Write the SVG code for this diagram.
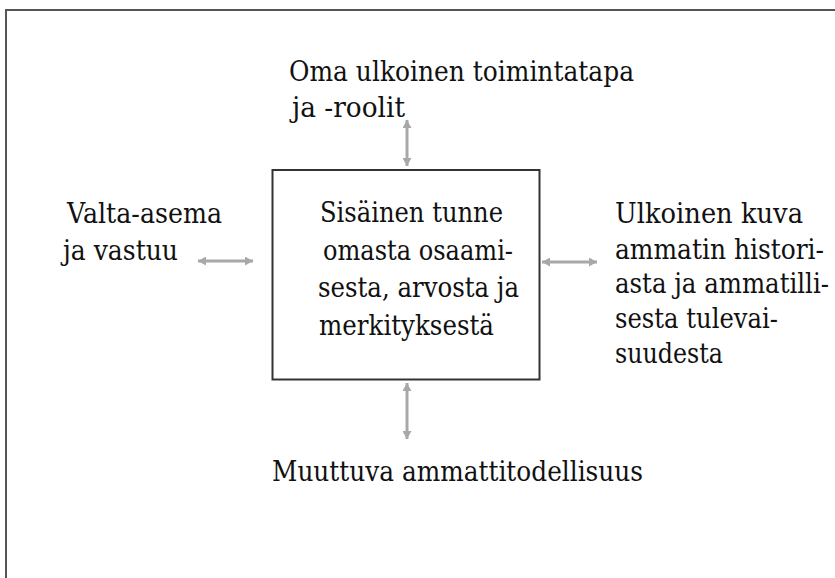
<svg xmlns="http://www.w3.org/2000/svg" width="835" height="578" viewBox="0 0 835 578">
  <style>
    .t { font-family: "DejaVu Serif", serif; font-size: 27.5px; fill: #111; }
    .conn { stroke: #a8a8a8; stroke-width: 3; fill: none; marker-start: url(#ah); marker-end: url(#ah); }
  </style>
  <defs>
    <marker id="ah" viewBox="0 0 8 9" markerWidth="8" markerHeight="9" refX="8" refY="4.5" markerUnits="userSpaceOnUse" orient="auto-start-reverse">
      <path d="M0,0 L8,4.5 L0,9 z" fill="#a8a8a8"/>
    </marker>
  </defs>
  <rect width="835" height="578" fill="#fff"/>
  <rect id="frame" x="6" y="10" width="900" height="700" fill="none" stroke="#555" stroke-width="2"/>

  <g id="center">
    <rect x="272.5" y="170" width="267" height="209.5" fill="none" stroke="#333" stroke-width="2"/>
    <text class="t" x="320" y="222" textLength="183" lengthAdjust="spacingAndGlyphs">Sisäinen tunne</text>
    <text class="t" x="323" y="259.5" textLength="190" lengthAdjust="spacingAndGlyphs">omasta osaami-</text>
    <text class="t" x="318" y="297" textLength="201" lengthAdjust="spacingAndGlyphs">sesta, arvosta ja</text>
    <text class="t" x="319" y="335" textLength="175" lengthAdjust="spacingAndGlyphs">merkityksestä</text>
  </g>
  <g id="top">
    <text class="t" x="289" y="81" textLength="345" lengthAdjust="spacingAndGlyphs">Oma ulkoinen toimintatapa</text>
    <text class="t" x="292" y="116.5" textLength="113" lengthAdjust="spacingAndGlyphs">ja -roolit</text>
  </g>
  <g id="left">
    <text class="t" x="67" y="223" textLength="155" lengthAdjust="spacingAndGlyphs">Valta-asema</text>
    <text class="t" x="63" y="259.5" textLength="115" lengthAdjust="spacingAndGlyphs">ja vastuu</text>
  </g>
  <g id="right">
    <text class="t" x="615" y="223" textLength="188" lengthAdjust="spacingAndGlyphs">Ulkoinen kuva</text>
    <text class="t" x="615" y="258.5" textLength="209" lengthAdjust="spacingAndGlyphs">ammatin histori-</text>
    <text class="t" x="615" y="293" textLength="214" lengthAdjust="spacingAndGlyphs">asta ja ammatilli-</text>
    <text class="t" x="615" y="328" textLength="163" lengthAdjust="spacingAndGlyphs">sesta tulevai-</text>
    <text class="t" x="615" y="363" textLength="108" lengthAdjust="spacingAndGlyphs">suudesta</text>
  </g>
  <g id="bottom">
    <text class="t" x="272" y="481" textLength="371" lengthAdjust="spacingAndGlyphs">Muuttuva ammattitodellisuus</text>
  </g>

  <g id="connectors">
    <line class="conn" x1="407" y1="120" x2="407" y2="166"/>
    <line class="conn" x1="407" y1="383" x2="407" y2="439"/>
    <line class="conn" x1="198" y1="261" x2="253" y2="261"/>
    <line class="conn" x1="542" y1="262" x2="597" y2="262"/>
  </g>
</svg>
